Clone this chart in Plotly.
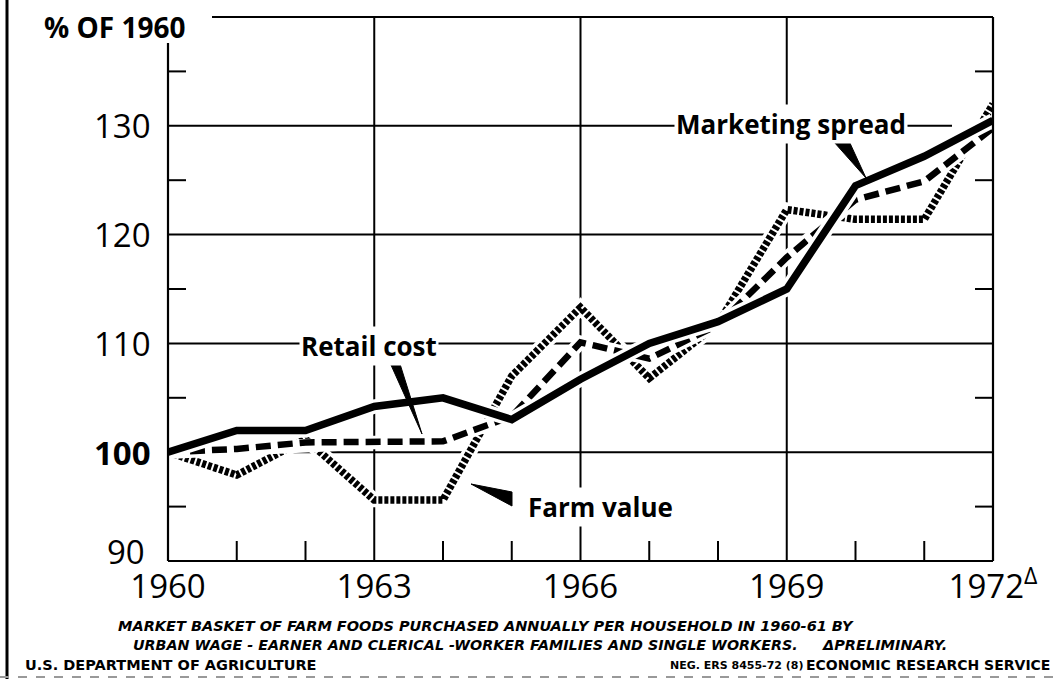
import plotly.graph_objects as go

# ---------------- data ----------------
years = list(range(1960, 1973))
marketing_spread = [100, 102, 102, 104.2, 105, 103, 106.7, 110, 112, 115, 124.5, 127.2, 130.5]
retail_cost = [100, 100.3, 100.9, 100.9, 101, 103.3, 110.1, 108.6, 111.7, 117.9, 123.2, 124.9, 129.8]
farm_value = [100, 97.9, 101.2, 95.6, 95.6, 107, 113.3, 106.8, 111.8, 122.3, 121.4, 121.4, 132]

x_ticks = [1960, 1963, 1966, 1969, 1972]
x_tick_labels = ["1960", "1963", "1966", "1969", "1972<sup>Δ</sup>"]
y_ticks = [90, 100, 110, 120, 130]
y_tick_labels = ["90", "<b>100</b>", "110", "120", "130"]
y_grid = [100, 110, 120, 130]
y_minor = [95, 105, 115, 125, 135]
x_grid = [1963, 1966, 1969]
x_minor = [1961, 1962, 1964, 1965, 1967, 1968, 1970, 1971]

# ---------------- geometry helpers ----------------
W, H = 1062, 679
ML, MR, MT, MB = 168, 69, 17, 118
PW, PH = W - ML - MR, H - MT - MB
X0, X1 = 1960, 1972
Y0, Y1 = 90, 140


def xp(px):
    return (px - ML) / PW


def yp(py):
    return (H - MB - py) / PH


def xd(px):
    return X0 + xp(px) * (X1 - X0)


def yd(py):
    return Y0 + yp(py) * (Y1 - Y0)


fig = go.Figure()

series = [
    (farm_value, dict(color="black", width=7.5, dash="4px,2px")),
    (retail_cost, dict(color="black", width=6.5, dash="15px,7px")),
    (marketing_spread, dict(color="black", width=7.5)),
]
for vals, ln in series:
    fig.add_trace(go.Scatter(x=years, y=vals, mode="lines",
                             line=dict(color="white", width=ln["width"] + 7),
                             hoverinfo="skip", showlegend=False))
    fig.add_trace(go.Scatter(x=years, y=vals, mode="lines", line=ln,
                             showlegend=False))

shapes = []
GL = dict(color="black", width=2)
for v in y_grid:
    x_end = xd(952) if v == 130 else X1
    shapes.append(dict(type="line", xref="x", yref="y", x0=X0, x1=x_end, y0=v, y1=v,
                       line=GL, layer="below"))
for v in x_grid:
    shapes.append(dict(type="line", xref="x", yref="y", x0=v, x1=v, y0=Y0, y1=Y1,
                       line=GL, layer="below"))
for v in x_minor:
    shapes.append(dict(type="line", xref="x", yref="y", x0=v, x1=v, y0=Y0, y1=yd(H - MB - 20),
                       line=GL, layer="below"))
for v in y_minor:
    shapes.append(dict(type="line", xref="x", yref="y", x0=X0, x1=xd(ML + 18), y0=v, y1=v,
                       line=GL, layer="below"))
    shapes.append(dict(type="line", xref="x", yref="y", x0=xd(W - MR - 18), x1=X1, y0=v, y1=v,
                       line=GL, layer="below"))
FR = dict(color="black", width=2.2)
shapes += [
    dict(type="line", xref="paper", yref="paper", x0=0, x1=1, y0=0, y1=0, line=FR),
    dict(type="line", xref="paper", yref="paper", x0=1, x1=1, y0=0, y1=1, line=FR),
    dict(type="line", xref="paper", yref="paper", x0=0, x1=0, y0=0, y1=yp(43), line=FR),
    dict(type="line", xref="paper", yref="paper", x0=xp(212), x1=1, y0=1, y1=1, line=FR),
    dict(type="line", xref="paper", yref="paper", x0=xp(7), x1=xp(7), y0=yp(679), y1=yp(0),
         line=dict(color="black", width=3)),
    dict(type="line", xref="paper", yref="paper", x0=xp(0), x1=xp(1062), y0=yp(677), y1=yp(677),
         line=dict(color="#999999", width=2, dash="dash")),
]


def wedge(pts):
    d = "M " + " L ".join(f"{xd(a)},{yd(b)}" for a, b in pts) + " Z"
    return dict(type="path", xref="x", yref="y", path=d, fillcolor="black",
                line=dict(color="black", width=1), layer="above")


shapes += [
    wedge([(834, 142), (849, 141), (866, 178)]),
    wedge([(391, 365), (400, 364), (422, 434)]),
    wedge([(471, 484), (512, 492), (512, 506)]),
]

LABEL_FONT = dict(family="Open Sans", size=26, color="black", weight="bold")
TICK_FONT = dict(family="Open Sans", size=33, color="black")
FOOT = "DejaVu Sans"
annotations = [
    dict(text="% OF 1960", x=xp(42), y=yp(27), xanchor="left", yanchor="middle",
         font=dict(family="Open Sans", size=28, color="black", weight="bold")),
    dict(text="Marketing spread", x=xp(674), y=yp(124), xanchor="left", yanchor="middle",
         font=LABEL_FONT, bgcolor="white", borderpad=1),
    dict(text="Retail cost", x=xp(299), y=yp(346), xanchor="left", yanchor="middle",
         font=LABEL_FONT, bgcolor="white", borderpad=1),
    dict(text="Farm value", x=xp(526), y=yp(507), xanchor="left", yanchor="middle",
         font=LABEL_FONT, bgcolor="white", borderpad=1),
    dict(text="MARKET BASKET OF FARM FOODS PURCHASED ANNUALLY PER HOUSEHOLD IN 1960-61 BY",
         x=xp(116), y=yp(626), xanchor="left", yanchor="middle",
         font=dict(family=FOOT, size=14.5, color="black", weight="bold", style="italic")),
    dict(text="URBAN WAGE - EARNER AND CLERICAL -WORKER FAMILIES AND SINGLE WORKERS.",
         x=xp(131), y=yp(645), xanchor="left", yanchor="middle",
         font=dict(family=FOOT, size=14.3, color="black", weight="bold", style="italic")),
    dict(text="ΔPRELIMINARY.", x=xp(820), y=yp(645), xanchor="left", yanchor="middle",
         font=dict(family=FOOT, size=14.5, color="black", weight="bold", style="italic")),
    dict(text="U.S. DEPARTMENT OF AGRICULTURE", x=xp(23), y=yp(665), xanchor="left", yanchor="middle",
         font=dict(family=FOOT, size=14.5, color="black", weight="bold")),
    dict(text="NEG. ERS 8455-72 (8)", x=xp(668), y=yp(665), xanchor="left", yanchor="middle",
         font=dict(family=FOOT, size=11, color="black", weight="bold")),
    dict(text="ECONOMIC RESEARCH SERVICE", x=xp(1052), y=yp(665), xanchor="right", yanchor="middle",
         font=dict(family=FOOT, size=14, color="black", weight="bold")),
]
for a in annotations:
    a.update(xref="paper", yref="paper", showarrow=False)

# y tick labels placed through the y scale
for v, t in zip(y_ticks, y_tick_labels):
    annotations.append(dict(text=t, xref="paper", yref="y",
                            x=xp(147) if v == Y0 else xp(153), y=v,
                            xanchor="right", yanchor="middle", showarrow=False,
                            yshift=10 if v == Y0 else 0, font=TICK_FONT))

fig.update_layout(
    width=W, height=H,
    margin=dict(l=ML, r=MR, t=MT, b=MB, pad=0),
    paper_bgcolor="white", plot_bgcolor="white",
    showlegend=False,
    shapes=shapes, annotations=annotations,
    font=dict(family="Open Sans", color="black"),
    xaxis=dict(range=[X0, X1], tickvals=x_ticks, ticktext=x_tick_labels,
               showgrid=False, zeroline=False, showline=False, ticks="",
               tickfont=TICK_FONT, ticklabelstandoff=3, fixedrange=True),
    yaxis=dict(range=[Y0, Y1], showticklabels=False,
               showgrid=False, zeroline=False, showline=False, ticks="",
               fixedrange=True),
)

fig.write_html("out.html", config={"displayModeBar": False},
               post_script="document.body.style.margin='0';document.body.style.overflow='hidden';")
